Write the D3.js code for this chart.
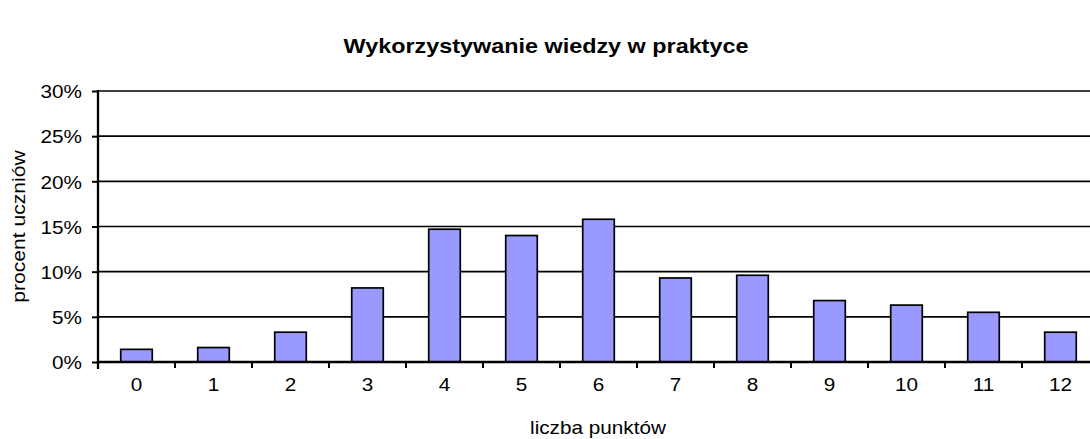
<!DOCTYPE html>
<html>
<head>
<meta charset="utf-8">
<script src="https://cdn.jsdelivr.net/npm/d3@7"></script>
<style>
  body { margin: 0; background: #fff; }
  text { font-family: "Liberation Sans", Arial, sans-serif; fill: #000; }
</style>
</head>
<body>
<svg id="chart" width="1090" height="439"></svg>
<script>
// liczba punktów (0..12) i procent uczniów
var punkty = ["0", "1", "2", "3", "4", "5", "6", "7", "8", "9", "10", "11", "12"];
var procent = [1.4, 1.6, 3.3, 8.2, 14.7, 14.0, 15.8, 9.3, 9.6, 6.8, 6.3, 5.5, 3.3];
var yTicks = [0, 5, 10, 15, 20, 25, 30];

var title = "Wykorzystywanie wiedzy w praktyce";
var xTitle = "liczba punktów";
var yTitle = "procent uczniów";

var svg = d3.select("#chart");

var mLeft = 98, mRight = 1099, mTop = 91, mBottom = 362;

var x = d3.scaleBand()
    .domain(punkty)
    .range([mLeft, mRight])
    .paddingInner(0.59)
    .paddingOuter(0.295);

var xb = d3.scaleBand().domain(punkty).range([mLeft, mRight]);

var y = d3.scaleLinear()
    .domain([0, 30])
    .range([mBottom, mTop]);

// the original chart text is a bit wider than normal Arial
function stretch(sel, k) {
    sel.each(function() {
        var w = this.getComputedTextLength();
        d3.select(this)
            .attr("textLength", w * k)
            .attr("lengthAdjust", "spacingAndGlyphs");
    });
}

// gridlines
svg.append("g")
    .selectAll("line")
    .data(yTicks.slice(1))
    .enter()
    .append("line")
    .attr("x1", mLeft)
    .attr("x2", mRight)
    .attr("y1", d => y(d))
    .attr("y2", d => y(d))
    .attr("stroke", "#000")
    .attr("stroke-width", 1.7);

// bars
svg.append("g")
    .selectAll("rect")
    .data(procent)
    .enter()
    .append("rect")
    .attr("x", (d, i) => x(punkty[i]))
    .attr("y", d => y(d))
    .attr("width", x.bandwidth())
    .attr("height", d => y(0) - y(d))
    .attr("fill", "#9999ff")
    .attr("stroke", "#000")
    .attr("stroke-width", 1.7);

// x axis
var axisX = d3.axisBottom(xb).tickSize(0).tickPadding(0);
var gx = svg.append("g")
    .attr("transform", "translate(0," + mBottom + ")")
    .call(axisX);
gx.select(".domain").remove();
gx.selectAll(".tick text")
    .attr("y", 29)
    .attr("dy", 0)
    .attr("fill", "#000")
    .style("font-size", "18.5px")
    .call(stretch, 1.12);
// tick marks at band edges
gx.append("g")
    .selectAll("line")
    .data(punkty)
    .enter()
    .append("line")
    .attr("x1", d => xb(d))
    .attr("x2", d => xb(d))
    .attr("y1", 0)
    .attr("y2", 6)
    .attr("stroke", "#000")
    .attr("stroke-width", 2);
gx.append("line")
    .attr("x1", mLeft)
    .attr("x2", mRight)
    .attr("stroke", "#000")
    .attr("stroke-width", 2.3);

// y axis
var axisY = d3.axisLeft(y)
    .tickValues(yTicks)
    .tickSize(6)
    .tickPadding(10)
    .tickFormat(d => d + "%");
var gy = svg.append("g")
    .attr("transform", "translate(" + mLeft + ",0)")
    .call(axisY);
gy.select(".domain").remove();
gy.selectAll(".tick line").attr("stroke", "#000").attr("stroke-width", 2);
gy.selectAll(".tick text")
    .attr("fill", "#000")
    .attr("dy", "0.36em")
    .style("font-size", "18.5px")
    .call(stretch, 1.12);
gy.append("line")
    .attr("y1", mTop - 1)
    .attr("y2", mBottom + 7)
    .attr("stroke", "#000")
    .attr("stroke-width", 2.3);

// titles
svg.append("text")
    .attr("x", 546)
    .attr("y", 53)
    .attr("text-anchor", "middle")
    .style("font-size", "20.5px")
    .style("font-weight", "bold")
    .text(title)
    .call(stretch, 1.14);

svg.append("text")
    .attr("x", 598)
    .attr("y", 434)
    .attr("text-anchor", "middle")
    .style("font-size", "18.5px")
    .text(xTitle)
    .call(stretch, 1.12);

svg.append("text")
    .attr("transform", "translate(25," + ((mTop + mBottom) / 2) + ") rotate(-90)")
    .attr("text-anchor", "middle")
    .style("font-size", "18.5px")
    .text(yTitle)
    .call(stretch, 1.14);
</script>
</body>
</html>
